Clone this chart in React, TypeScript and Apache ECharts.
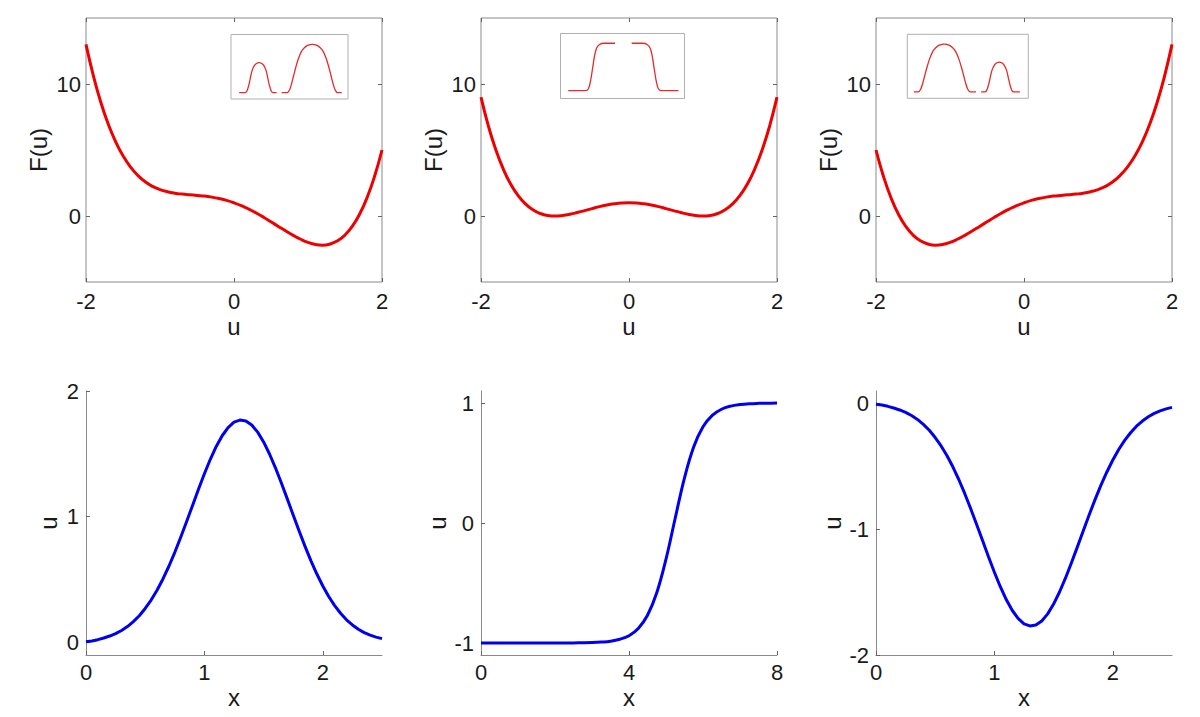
import React, { useEffect, useRef } from 'react';
import * as echarts from 'echarts';

// ---- Top row: F(u) ----
const uValues = [
  -2, -1.9, -1.8, -1.7, -1.6, -1.5, -1.4, -1.3, -1.2, -1.1, -1, -0.9, -0.8, -0.7, -0.6, -0.5, -0.4, -0.3, -0.2, -0.1,
  0, 0.1, 0.2, 0.3, 0.4, 0.5, 0.6, 0.7, 0.8, 0.9, 1, 1.1, 1.2, 1.3, 1.4, 1.5, 1.6, 1.7, 1.8, 1.9, 2,
];
const F1 = [
  13, 10.61, 8.62, 6.97, 5.63, 4.56, 3.72, 3.08, 2.59, 2.24, 2.0, 1.84, 1.73, 1.66, 1.61, 1.56, 1.51, 1.43, 1.32, 1.18,
  1, 0.78, 0.52, 0.23, -0.09, -0.44, -0.79, -1.14, -1.47, -1.76, -2.0, -2.16, -2.21, -2.12, -1.88, -1.44, -0.77, 0.17, 1.42, 3.01, 5,
];
const F2 = [
  9, 6.81, 5.02, 3.57, 2.43, 1.56, 0.92, 0.48, 0.19, 0.04, 0, 0.04, 0.13, 0.26, 0.41, 0.56, 0.71, 0.83, 0.92, 0.98,
  1, 0.98, 0.92, 0.83, 0.71, 0.56, 0.41, 0.26, 0.13, 0.04, 0, 0.04, 0.19, 0.48, 0.92, 1.56, 2.43, 3.57, 5.02, 6.81, 9,
];
const F3 = [
  5, 3.01, 1.42, 0.17, -0.77, -1.44, -1.88, -2.12, -2.21, -2.16, -2.0, -1.76, -1.47, -1.14, -0.79, -0.44, -0.09, 0.23, 0.52, 0.78,
  1, 1.18, 1.32, 1.43, 1.51, 1.56, 1.61, 1.66, 1.73, 1.84, 2.0, 2.24, 2.59, 3.08, 3.72, 4.56, 5.63, 6.97, 8.62, 10.61, 13,
];
const topXTicks = [-2, 0, 2];
const topYTicks = [0, 10];

// ---- Bottom row: u(x) ----
const xBump = [
  0, 0.05, 0.1, 0.15, 0.2, 0.25, 0.3, 0.35, 0.4, 0.45, 0.5, 0.55, 0.6, 0.65, 0.7, 0.75, 0.8, 0.85, 0.9, 0.95,
  1, 1.05, 1.1, 1.15, 1.2, 1.25, 1.3, 1.35, 1.4, 1.45, 1.5, 1.55, 1.6, 1.65, 1.7, 1.75, 1.8, 1.85, 1.9, 1.95,
  2, 2.05, 2.1, 2.15, 2.2, 2.25, 2.3, 2.35, 2.4, 2.45, 2.5,
];
const uBump = [
  0.005, 0.012, 0.022, 0.035, 0.051, 0.07, 0.095, 0.126, 0.165, 0.212, 0.27, 0.337, 0.415, 0.505, 0.606, 0.717, 0.837, 0.962, 1.09, 1.218,
  1.342, 1.457, 1.559, 1.644, 1.709, 1.752, 1.769, 1.762, 1.729, 1.673, 1.595, 1.499, 1.389, 1.268, 1.142, 1.013, 0.886, 0.764, 0.649, 0.544,
  0.449, 0.365, 0.293, 0.232, 0.18, 0.139, 0.105, 0.078, 0.058, 0.042, 0.03,
];
const uDip = [
  -0.005, -0.012, -0.022, -0.035, -0.051, -0.07, -0.095, -0.126, -0.165, -0.212, -0.27, -0.337, -0.415, -0.505, -0.606, -0.717, -0.837, -0.962, -1.09, -1.218,
  -1.342, -1.457, -1.559, -1.644, -1.709, -1.752, -1.769, -1.762, -1.729, -1.673, -1.595, -1.499, -1.389, -1.268, -1.142, -1.013, -0.886, -0.764, -0.649, -0.544,
  -0.449, -0.365, -0.293, -0.232, -0.18, -0.139, -0.105, -0.078, -0.058, -0.042, -0.03,
];
const xKink = [0, 0.25, 0.5, 0.75, 1, 1.25, 1.5, 1.75, 2, 2.25, 2.5, 2.75, 3, 3.25, 3.5, 3.75, 4, 4.25, 4.5, 4.75, 5, 5.25, 5.5, 5.75, 6, 6.25, 6.5, 6.75, 7, 7.25, 7.5, 7.75, 8];
const uKink = [
  -1, -1, -1, -1, -1, -1, -1, -1, -1, -1, -0.999, -0.998, -0.996, -0.992, -0.985, -0.969, -0.939, -0.879, -0.769, -0.582, -0.301,
  0.042, 0.377, 0.635, 0.802, 0.897, 0.948, 0.974, 0.987, 0.994, 0.997, 0.998, 0.999,
];

// ---- Insets (profiles, arbitrary 0..100 units) ----
const insetPeaks: (number[] | null)[] = [
  [7, 10], [12, 10], [13.5, 12], [15, 20], [16.5, 32], [18, 44], [20, 52], [22, 55.5], [24, 56.5], [26, 55.5], [28, 52], [30, 44], [31.5, 32], [33, 20], [34.5, 12], [36, 10], [39, 10],
  null,
  [43.3, 10], [48, 10], [50, 14], [51.5, 22], [53.5, 36], [55.5, 50], [57.5, 62], [60, 73], [62.5, 79], [65.5, 83], [69.5, 84.6], [73.5, 83], [76.5, 79], [79, 73], [81.5, 62], [83.5, 50], [85.5, 36], [87.5, 22], [89, 14], [91, 10], [94.6, 10],
];
const insetKinks: (number[] | null)[] = [
  [6.3, 12], [20, 12], [22.5, 15], [24.3, 28], [26, 48], [27.4, 65], [29, 77], [31.5, 83], [35, 85], [44, 85],
  null,
  [57.4, 85], [66.4, 85], [69.9, 83], [72.4, 77], [74, 65], [75.4, 48], [77.1, 28], [78.9, 15], [81.4, 12], [95.1, 12],
];

const FONT = 'Liberation Sans, Arial, sans-serif';
const TXT = '#1a1a1a';
const AX = '#8a8a8a';
const RED = '#ee0000';
const BLUE = '#0000f0';

function zip(xs: number[], ys: number[]) {
  return xs.map((x, i) => [x, ys[i]]);
}

export default function App() {
  const ref = useRef<HTMLDivElement>(null);
  useEffect(() => {
    const chart = echarts.init(ref.current!, null, { renderer: 'svg' });
    const grid: any[] = [];
    const xAxis: any[] = [];
    const yAxis: any[] = [];
    const series: any[] = [];
    const lefts = [86, 481, 876];
    const TICK = 22;
    const NAME = 24;

    const tickStyle = { show: true, inside: true, length: 4, lineStyle: { color: '#666', width: 1 } };

    // top row
    const topData = [F1, F2, F3];
    lefts.forEach((left, i) => {
      const g = grid.length;
      grid.push({ left, top: 18, width: 296, height: 264, show: true, borderColor: AX, borderWidth: 1, backgroundColor: 'transparent' });
      const xi = xAxis.length;
      xAxis.push({
        type: 'value', gridIndex: g, min: -2, max: 2, position: 'bottom',
        name: 'u', nameLocation: 'middle', nameGap: 32,
        nameTextStyle: { fontFamily: FONT, fontSize: NAME, color: TXT },
        axisLine: { show: false, onZero: false }, splitLine: { show: false },
        axisTick: { ...tickStyle, customValues: topXTicks },
        axisLabel: { customValues: topXTicks, margin: 8, fontFamily: FONT, fontSize: TICK, color: TXT },
      });
      xAxis.push({
        type: 'value', gridIndex: g, min: -2, max: 2, position: 'top',
        axisLine: { show: false, onZero: false }, splitLine: { show: false },
        axisTick: { ...tickStyle, customValues: topXTicks }, axisLabel: { show: false },
      });
      const yi = yAxis.length;
      yAxis.push({
        type: 'value', gridIndex: g, min: -5, max: 15, position: 'left',
        name: 'F(u)', nameLocation: 'middle', nameGap: 36, nameRotate: 90,
        nameTextStyle: { fontFamily: FONT, fontSize: NAME, color: TXT },
        axisLine: { show: false, onZero: false }, splitLine: { show: false },
        axisTick: { ...tickStyle, customValues: topYTicks },
        axisLabel: { customValues: topYTicks, margin: 5, fontFamily: FONT, fontSize: TICK, color: TXT },
      });
      yAxis.push({
        type: 'value', gridIndex: g, min: -5, max: 15, position: 'right',
        axisLine: { show: false, onZero: false }, splitLine: { show: false },
        axisTick: { ...tickStyle, customValues: topYTicks }, axisLabel: { show: false },
      });
      series.push({
        type: 'line', xAxisIndex: xi, yAxisIndex: yi, data: zip(uValues, topData[i]),
        showSymbol: false, smooth: 0.5, lineStyle: { color: RED, width: 3 }, z: 3,
      });
    });

    // bottom row
    const bottomCfg = [
      { xs: xBump, ys: uBump, xmin: 0, xmax: 2.5, xt: [0, 1, 2], ymin: -0.1, ymax: 2, yt: [0, 1, 2], gap: 26, smooth: false },
      { xs: xKink, ys: uKink, xmin: 0, xmax: 8, xt: [0, 4, 8], ymin: -1.1, ymax: 1.1, yt: [-1, 0, 1], gap: 32, smooth: 0.4 },
      { xs: xBump, ys: uDip, xmin: 0, xmax: 2.5, xt: [0, 1, 2], ymin: -2, ymax: 0.1, yt: [-2, -1, 0], gap: 32, smooth: false },
    ];
    lefts.forEach((left, i) => {
      const c = bottomCfg[i];
      const g = grid.length;
      grid.push({ left, top: 391, width: 296, height: 264 });
      const xi = xAxis.length;
      xAxis.push({
        type: 'value', gridIndex: g, min: c.xmin, max: c.xmax,
        name: 'x', nameLocation: 'middle', nameGap: 30,
        nameTextStyle: { fontFamily: FONT, fontSize: NAME, color: TXT },
        axisLine: { show: true, onZero: false, lineStyle: { color: AX, width: 1 } }, splitLine: { show: false },
        axisTick: { ...tickStyle, customValues: c.xt },
        axisLabel: { customValues: c.xt, margin: 6, fontFamily: FONT, fontSize: TICK, color: TXT },
      });
      const yi = yAxis.length;
      yAxis.push({
        type: 'value', gridIndex: g, min: c.ymin, max: c.ymax,
        name: 'u', nameLocation: 'middle', nameGap: c.gap, nameRotate: 90,
        nameTextStyle: { fontFamily: FONT, fontSize: NAME, color: TXT },
        axisLine: { show: true, onZero: false, lineStyle: { color: AX, width: 1 } }, splitLine: { show: false },
        axisTick: { ...tickStyle, customValues: c.yt },
        axisLabel: { customValues: c.yt, margin: 7, fontFamily: FONT, fontSize: TICK, color: TXT },
      });
      series.push({
        type: 'line', xAxisIndex: xi, yAxisIndex: yi, data: zip(c.xs, c.ys),
        showSymbol: false, smooth: c.smooth, lineStyle: { color: BLUE, width: 3, join: 'round' }, z: 3,
      });
    });

    // insets
    const insets = [
      { left: 231, top: 34.5, width: 117, height: 64.5, data: insetPeaks, inverse: false },
      { left: 560.5, top: 33.5, width: 124, height: 65, data: insetKinks, inverse: false },
      { left: 907.3, top: 34.3, width: 121, height: 64, data: insetPeaks, inverse: true },
    ];
    insets.forEach((ins) => {
      const g = grid.length;
      grid.push({ left: ins.left, top: ins.top, width: ins.width, height: ins.height, show: true, borderColor: '#b0b0b0', borderWidth: 1, backgroundColor: '#fff', z: 5 });
      const xi = xAxis.length;
      xAxis.push({ type: 'value', gridIndex: g, min: 0, max: 100, show: false, inverse: ins.inverse });
      const yi = yAxis.length;
      yAxis.push({ type: 'value', gridIndex: g, min: 0, max: 100, show: false });
      series.push({
        type: 'line', xAxisIndex: xi, yAxisIndex: yi, data: ins.data, connectNulls: false,
        showSymbol: false, smooth: 0.35, lineStyle: { color: '#e52a2a', width: 1.3 }, z: 6,
      });
    });

    chart.setOption({ animation: false, backgroundColor: '#fff', grid, xAxis, yAxis, series });
    return () => chart.dispose();
  }, []);
  return <div ref={ref} style={{ position: 'fixed', left: 0, top: 0, width: 1200, height: 717, background: '#fff' }} />;
}
